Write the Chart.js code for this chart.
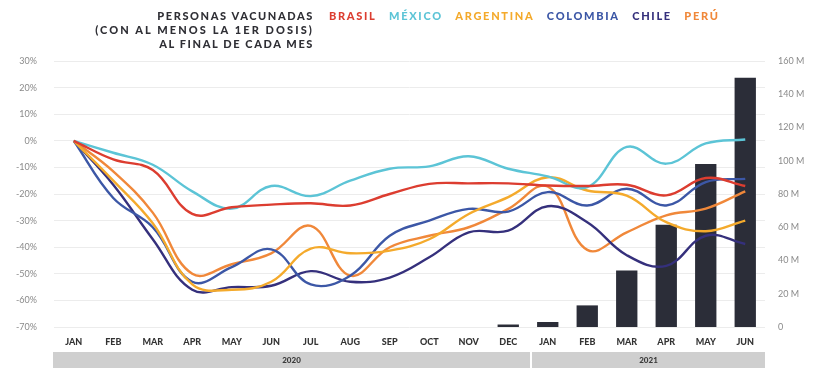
<!DOCTYPE html>
<html>
<head>
<meta charset="utf-8">
<script src="https://cdn.jsdelivr.net/npm/chart.js@4.4.1/dist/chart.umd.min.js"></script>
<style>
  html, body { margin: 0; padding: 0; background: #fff; }
  #wrap { position: relative; width: 838px; height: 390px; }
  #title {
    position: absolute; right: 524px; top: 9px;
    text-align: right; font-family: Lato, sans-serif; font-weight: 900;
    font-size: 11px; line-height: 14px; letter-spacing: 1.6px; color: #2f2f35;
  }
  #title .wide { letter-spacing: 2.1px; }
  #legend {
    position: absolute; left: 329px; top: 9px;
    font-family: Lato, sans-serif; font-weight: 900; font-size: 11px;
    line-height: 14px; letter-spacing: 1.7px; white-space: nowrap;
  }
  #legend span { margin-right: 12.5px; }
  canvas { position: absolute; left: 0; top: 0; }
</style>
</head>
<body>
<div id="wrap">
  <canvas id="chart" width="838" height="390"></canvas>
  <div id="title">PERSONAS VACUNADAS<br><span class="wide">(CON AL MENOS LA 1ER DOSIS)</span><br>AL FINAL DE CADA MES</div>
  <div id="legend"></div>
</div>
<script>
const months = ['JAN', 'FEB', 'MAR', 'APR', 'MAY', 'JUN', 'JUL', 'AUG', 'SEP', 'OCT', 'NOV', 'DEC',
                'JAN', 'FEB', 'MAR', 'APR', 'MAY', 'JUN'];
const years = [{ label: '2020', from: 0, to: 11 }, { label: '2021', from: 12, to: 17 }];

// % change per country
const brasil    = [0, -7, -11, -27.5, -25, -24, -23.5, -24.3, -20, -16.2, -16, -16, -16.8, -17, -16.5, -20.5, -14, -17];
const mexico    = [0, -4.5, -9, -19, -25.5, -17, -20.8, -15, -10.5, -9.6, -5.8, -10.5, -13.4, -17.4, -2.3, -8.6, -1, 0.5];
const argentina = [0, -15, -31, -54, -56, -53, -40.5, -42.3, -41.3, -37, -27.5, -21.2, -13.7, -18.7, -20.6, -30.6, -34, -30];
const colombia  = [0, -21.5, -32.5, -53, -47.5, -40.8, -54, -50.7, -35.7, -30, -25.6, -26.6, -19.3, -24.3, -18, -24.3, -15.5, -14.3];
const chile     = [0, -16.5, -37, -56, -55, -54.5, -49, -53, -51.4, -43.8, -34.4, -33.8, -24.6, -30.6, -43, -47, -35.7, -38.8];
const peru      = [0, -11.5, -27, -50, -46.4, -42.3, -32, -50.7, -40, -35.7, -32.5, -25.6, -17.2, -41, -34.4, -28, -25.5, -19];

// vaccinated people, millions
const vacunados = [null, null, null, null, null, null, null, null, null, null, null, 1.5, 3, 13, 34, 61.5, 98, 150];

const series = [
  { label: 'BRASIL', data: brasil, color: '#dc3d30' },
  { label: 'MÉXICO', data: mexico, color: '#5cc4d6' },
  { label: 'ARGENTINA', data: argentina, color: '#f4aa2c' },
  { label: 'COLOMBIA', data: colombia, color: '#3c57a6' },
  { label: 'CHILE', data: chile, color: '#35307c' },
  { label: 'PERÚ', data: peru, color: '#f0883a' }
];

const legend = document.getElementById('legend');
series.forEach(s => {
  const sp = document.createElement('span');
  sp.textContent = s.label;
  sp.style.color = s.color;
  legend.appendChild(sp);
});

// grey year band under the month labels
const yearBand = {
  id: 'yearBand',
  afterDraw(chart) {
    const ctx = chart.ctx;
    const x = chart.scales.x;
    const half = (x.getPixelForValue(1) - x.getPixelForValue(0)) / 2;
    ctx.save();
    years.forEach((y, i) => {
      const l = x.getPixelForValue(y.from) - half + (i > 0 ? 4 : -1);
      const r = x.getPixelForValue(y.to) + half + (i > 0 ? 0 : 2);
      ctx.fillStyle = '#cfcfcf';
      ctx.fillRect(l, 352, r - l, 16);
      ctx.fillStyle = '#3a3a3a';
      ctx.font = '900 8px Lato';
      ctx.textAlign = 'center';
      ctx.textBaseline = 'middle';
      ctx.fillText(y.label, (l + r) / 2, 360.5);
    });
    ctx.restore();
  }
};

const datasets = series.map(s => ({
  type: 'line',
  label: s.label,
  data: s.data,
  borderColor: s.color,
  backgroundColor: s.color,
  borderWidth: 2.4,
  pointRadius: 0,
  tension: 0.4,
  yAxisID: 'y',
  order: 1
}));
datasets.push({
  type: 'bar',
  label: 'Vacunados',
  data: vacunados,
  backgroundColor: '#2b2d38',
  barPercentage: 0.9,
  categoryPercentage: 0.6,
  yAxisID: 'y2',
  order: 10
});

new Chart(document.getElementById('chart'), {
  type: 'bar',
  data: { labels: months, datasets: datasets },
  plugins: [yearBand],
  options: {
    responsive: false,
    animation: false,
    layout: { padding: { top: 61, left: 0, right: 0, bottom: 0 } },
    plugins: { legend: { display: false }, tooltip: { enabled: false } },
    scales: {
      x: {
        grid: { display: false },
        border: { display: false },
        ticks: { color: '#333', font: { family: 'Lato', size: 9, weight: '900' }, padding: 2, maxRotation: 0, autoSkip: false },
        afterFit(scale) { scale.height = 63; }
      },
      y: {
        position: 'left',
        min: -70, max: 30,
        ticks: { stepSize: 10, color: '#8a8a8a', font: { family: 'Lato', size: 9 }, padding: 17,
                 callback: v => v + '%' },
        grid: { color: '#ececec', lineWidth: 1, drawTicks: false },
        border: { display: false },
        afterFit(scale) { scale.width = 54; }
      },
      y2: {
        position: 'right',
        min: 0, max: 160,
        ticks: { stepSize: 20, color: '#8a8a8a', font: { family: 'Lato', size: 9 }, padding: 13,
                 callback: v => v === 0 ? '0' : v + ' M' },
        grid: { display: false, drawTicks: false },
        border: { display: false },
        afterFit(scale) { scale.width = 73; }
      }
    }
  }
});
</script>
</body>
</html>
